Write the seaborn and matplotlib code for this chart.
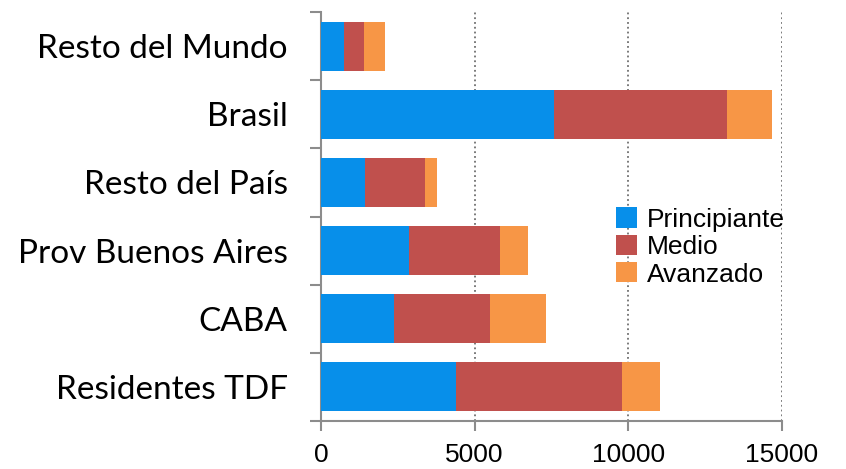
import pandas as pd
import matplotlib.pyplot as plt
import seaborn as sns

# Data
regiones = ['Resto del Mundo', 'Brasil', 'Resto del País',
            'Prov Buenos Aires', 'CABA', 'Residentes TDF']
principiante = [750, 7570, 1420, 2860, 2375, 4390]
medio = [640, 5630, 1960, 2950, 3125, 5400]
avanzado = [690, 1460, 390, 940, 1820, 1240]

df = pd.DataFrame({'region': regiones,
                   'Principiante': principiante,
                   'Medio': medio,
                   'Avanzado': avanzado})
df['p'] = df['Principiante']
df['pm'] = df['p'] + df['Medio']
df['pma'] = df['pm'] + df['Avanzado']

sns.set_style('white')
plt.rcParams['font.family'] = ['Liberation Sans', 'DejaVu Sans']
plt.rcParams['text.color'] = 'black'
plt.rcParams['xtick.color'] = 'black'
plt.rcParams['ytick.color'] = 'black'

fig = plt.figure(figsize=(8.46, 4.69), dpi=100)
ax = fig.add_axes([321 / 846, 1 - 421 / 469, 461 / 846, 409 / 469])

# stacked bars: draw cumulative totals back to front
sns.barplot(data=df, x='pma', y='region', color='#F79646', width=0.72,
            saturation=1, linewidth=0, label='Avanzado', ax=ax, zorder=3)
sns.barplot(data=df, x='pm', y='region', color='#C0504D', width=0.72,
            saturation=1, linewidth=0, label='Medio', ax=ax, zorder=3)
sns.barplot(data=df, x='p', y='region', color='#078FEA', width=0.72,
            saturation=1, linewidth=0, label='Principiante', ax=ax, zorder=3)

ax.set_xlim(0, 15000)
ax.set_ylim(5.5, -0.5)
ax.set_xticks([0, 5000, 10000, 15000])
ax.set_xlabel('')
ax.set_ylabel('')

ax.xaxis.grid(True, linestyle=':', color='#707070', linewidth=1.3, zorder=0)
ax.yaxis.grid(False)
ax.set_axisbelow(True)

for s in ['top', 'right']:
    ax.spines[s].set_visible(False)
for s in ['left', 'bottom']:
    ax.spines[s].set_color('#8C8C8C')
    ax.spines[s].set_linewidth(1.5)

ax.tick_params(axis='x', which='major', length=7, width=1.5, color='#8C8C8C',
               labelcolor='black', labelsize=19, pad=9, bottom=True)
ax.tick_params(axis='y', which='major', length=0, pad=24, labelcolor='black')
ax.set_yticks([i - 0.5 for i in range(7)], minor=True)
ax.tick_params(axis='y', which='minor', length=8, width=1.5, color='#8C8C8C', left=True)
for lab in ax.get_yticklabels():
    lab.set_fontfamily(['Lato', 'DejaVu Sans'])
    lab.set_fontsize(24)

handles, labels = ax.get_legend_handles_labels()
order = [labels.index(n) for n in ['Principiante', 'Medio', 'Avanzado']]
ax.legend([handles[i] for i in order], [labels[i] for i in order],
          loc='center left', bbox_to_anchor=(603 / 846, 1 - 247 / 469),
          bbox_transform=fig.transFigure, frameon=False, fontsize=19,
          handlelength=0.8, handleheight=0.8, handletextpad=0.35,
          labelspacing=0.12, borderpad=0)

fig.savefig('out.png', dpi=100)
